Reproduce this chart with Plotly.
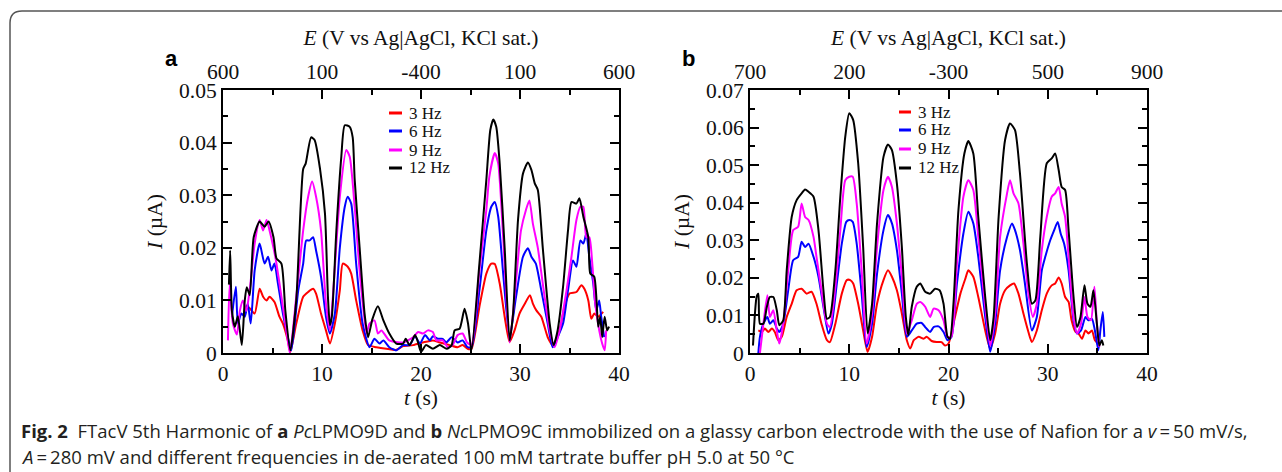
import plotly.graph_objects as go

# ---------------- data ----------------
# Panel a : PcLPMO9D
a_t_3 = [2.3, 2.7, 3.2, 3.7, 4.05, 4.4, 4.7, 5.2, 5.7, 6.05, 6.55, 6.8, 7.4, 8.1, 8.6, 9.1, 9.4, 9.9, 10.4, 10.8,
         11.3, 11.8, 12.1, 12.6, 12.95, 13.45, 14.1, 14.65, 15.5, 16.5, 17.5, 18.2, 19.2, 20.2, 21.2, 21.9, 22.9,
         23.7, 24.2, 24.7, 25.1, 25.9, 26.6, 27.1, 27.45, 27.95, 28.45, 28.95, 29.45, 29.95, 30.5, 31.0, 31.3,
         31.65, 32.15, 32.8, 33.3, 34.0, 34.5, 35.0, 35.7, 36.2, 36.5, 36.9, 37.2, 37.5, 37.9, 38.4]
a_i_3 = [0.0090, 0.0085, 0.0075, 0.0122, 0.0107, 0.0100, 0.0107, 0.0097, 0.0069, 0.0056, 0.0024, 0.0002, 0.0056,
         0.0107, 0.0116, 0.0122, 0.0113, 0.0075, 0.0043, 0.0018, 0.0056, 0.0119, 0.0170, 0.0164, 0.0151, 0.0100,
         0.0043, 0.0015, 0.0011, 0.0008, 0.0006, 0.0013, 0.0015, 0.0020, 0.0024, 0.0020, 0.0015, 0.0011, 0.0015,
         0.0008, 0.0008, 0.0088, 0.0151, 0.0170, 0.0169, 0.0132, 0.0069, 0.0021, 0.0043, 0.0075, 0.0094, 0.0110,
         0.0094, 0.0081, 0.0069, 0.0030, 0.0015, 0.0043, 0.0088, 0.0113, 0.0116, 0.0129, 0.0122, 0.0100, 0.0065,
         0.0075, 0.0069, 0.0078]

a_t_6 = [0.9, 1.3, 1.5, 1.85, 2.2, 2.5, 2.8, 3.2, 3.7, 4.2, 4.55, 4.9, 5.2, 5.55, 6.05, 6.55, 6.9, 7.6, 8.1, 8.4,
         8.75, 9.1, 9.4, 9.9, 10.4, 10.8, 11.3, 11.8, 12.3, 12.6, 12.95, 13.45, 14.1, 14.8, 15.3, 15.8, 16.2, 16.8,
         17.5, 18.2, 18.85, 19.4, 19.9, 20.4, 20.9, 21.2, 21.7, 22.2, 22.55, 23.1, 23.7, 24.2, 24.7, 25.1, 25.9,
         26.6, 27.1, 27.45, 27.8, 28.3, 28.95, 29.6, 30.3, 30.8, 31.15, 31.6, 32.15, 32.8, 33.3, 33.8, 34.35, 34.85,
         35.35, 35.7, 36.1, 36.4, 36.7, 37.0, 37.4, 37.7, 38.0, 38.2, 38.5]
a_i_6 = [0.0069, 0.0126, 0.0056, 0.0075, 0.0069, 0.0094, 0.0056, 0.0157, 0.0208, 0.0170, 0.0183, 0.0157, 0.0170,
         0.0132, 0.0075, 0.0030, 0.0005, 0.0119, 0.0170, 0.0214, 0.0214, 0.0220, 0.0195, 0.0145, 0.0069, 0.0037,
         0.0075, 0.0200, 0.0278, 0.0297, 0.0284, 0.0170, 0.0056, 0.0011, 0.0027, 0.0018, 0.0024, 0.0011, 0.0005,
         0.0015, 0.0015, 0.0032, 0.0018, 0.0034, 0.0024, 0.0032, 0.0027, 0.0027, 0.0020, 0.0030, 0.0020, 0.0024,
         0.0011, 0.0011, 0.0119, 0.0233, 0.0278, 0.0287, 0.0259, 0.0151, 0.0030, 0.0107, 0.0183, 0.0199, 0.0183,
         0.0170, 0.0119, 0.0056, 0.0011, 0.0030, 0.0056, 0.0119, 0.0176, 0.0164, 0.0214, 0.0208, 0.0227, 0.0183,
         0.0132, 0.0081, 0.0100, 0.0069, 0.0030]

a_t_9 = [0.5, 0.67, 1.0, 1.4, 1.7, 2.0, 2.35, 2.7, 3.2, 3.7, 4.05, 4.4, 4.7, 5.1, 5.4, 5.9, 6.4, 6.75, 7.4, 8.1, 8.6,
         9.0, 9.4, 9.9, 10.4, 10.8, 11.1, 11.8, 12.45, 12.8, 13.3, 13.8, 14.5, 14.8, 15.3, 15.65, 16.0, 16.8, 18.2,
         19.2, 19.7, 20.2, 20.7, 21.2, 21.55, 22.2, 22.7, 23.2, 23.7, 24.2, 24.65, 25.1, 25.9, 26.6, 26.9, 27.45,
         27.8, 28.3, 28.95, 29.6, 30.1, 30.6, 30.95, 31.3, 31.8, 32.3, 33.0, 33.5, 34.0, 34.7, 35.2, 35.7, 36.1,
         36.4, 36.7, 37.0, 37.3, 37.6, 38.0, 38.3, 38.55, 38.7]
a_i_9 = [0.0024, 0.0130, 0.0056, 0.0035, 0.0080, 0.0100, 0.0080, 0.0120, 0.0208, 0.0253, 0.0233, 0.0253, 0.0233,
         0.0200, 0.0170, 0.0107, 0.0043, 0.0000, 0.0107, 0.0233, 0.0297, 0.0326, 0.0297, 0.0233, 0.0094, 0.0043,
         0.0107, 0.0297, 0.0386, 0.0373, 0.0278, 0.0157, 0.0037, 0.0056, 0.0062, 0.0037, 0.0043, 0.0024, 0.0020,
         0.0030, 0.0040, 0.0037, 0.0043, 0.0040, 0.0024, 0.0024, 0.0011, 0.0015, 0.0034, 0.0037, 0.0020, 0.0015,
         0.0157, 0.0272, 0.0335, 0.0380, 0.0360, 0.0220, 0.0020, 0.0138, 0.0233, 0.0272, 0.0290, 0.0246, 0.0200,
         0.0132, 0.0043, 0.0011, 0.0043, 0.0119, 0.0183, 0.0253, 0.0278, 0.0278, 0.0220, 0.0220, 0.0170, 0.0094,
         0.0043, 0.0018, 0.0005, 0.0043]

a_t_12 = [0.6, 0.72, 0.9, 1.2, 1.5, 1.9, 2.2, 2.4, 2.7, 3.1, 3.7, 4.2, 4.6, 5.1, 5.4, 5.9, 6.3, 6.8, 7.4, 8.1,
          8.35, 8.9, 9.25, 9.8, 10.3, 10.6, 10.8, 11.0, 11.45, 11.95, 12.3, 12.8, 13.1, 13.3, 13.8, 14.3, 14.65,
          15.1, 15.65, 16.2, 16.8, 17.5, 18.2, 18.45, 18.85, 19.4, 19.7, 20.0, 20.5, 21.2, 21.9, 22.6, 23.1, 23.4,
          23.9, 24.4, 24.75, 25.1, 25.9, 26.6, 27.0, 27.3, 27.6, 27.95, 28.45, 28.95, 29.3, 29.8, 30.3, 30.8,
          31.15, 31.5, 31.8, 32.3, 33.0, 33.4, 33.8, 34.35, 34.85, 35.2, 35.7, 36.0, 36.4, 36.9, 37.1, 37.5, 37.9,
          38.1, 38.3, 38.55, 38.8, 39.0]
a_i_12 = [0.0130, 0.0195, 0.0080, 0.0050, 0.0070, 0.0015, 0.0100, 0.0125, 0.0110, 0.0220, 0.0250, 0.0240, 0.0250,
          0.0220, 0.0180, 0.0170, 0.0080, 0.0005, 0.0100, 0.0350, 0.0360, 0.0410, 0.0405, 0.0350, 0.0265, 0.0107,
          0.0053, 0.0070, 0.0233, 0.0373, 0.0433, 0.0430, 0.0410, 0.0330, 0.0200, 0.0075, 0.0030, 0.0065, 0.0089,
          0.0062, 0.0037, 0.0018, 0.0018, 0.0027, 0.0015, 0.0034, 0.0020, 0.0002, 0.0015, 0.0008, 0.0015, 0.0008,
          0.0015, 0.0043, 0.0046, 0.0084, 0.0056, 0.0005, 0.0170, 0.0329, 0.0424, 0.0444, 0.0430, 0.0360, 0.0200,
          0.0024, 0.0075, 0.0253, 0.0341, 0.0362, 0.0348, 0.0322, 0.0310, 0.0200, 0.0056, 0.0015, 0.0043, 0.0126,
          0.0233, 0.0287, 0.0284, 0.0294, 0.0259, 0.0220, 0.0151, 0.0145, 0.0050, 0.0069, 0.0030, 0.0069, 0.0043,
          0.0050]

# Panel b : NcLPMO9C
b_t_3 = [0.84, 1.2, 1.5, 1.85, 2.2, 2.5, 2.85, 3.2, 3.7, 4.2, 4.7, 5.2, 5.7, 6.2, 6.7, 7.2, 7.75, 8.05, 8.6, 9.25,
         9.75, 10.1, 10.4, 10.9, 11.4, 11.85, 12.3, 12.8, 13.45, 13.9, 14.3, 14.8, 15.3, 15.8, 16.15, 16.5, 17.0,
         17.5, 17.8, 18.3, 18.8, 19.3, 19.65, 20.0, 20.5, 21.2, 21.7, 22.0, 22.5, 23.0, 23.7, 24.2, 24.7, 25.2,
         25.7, 26.2, 26.6, 27.05, 27.55, 28.05, 28.4, 28.9, 29.4, 29.9, 30.4, 30.75, 31.1, 31.4, 31.75, 32.1, 32.4,
         32.8, 33.1, 33.45, 33.8, 34.1, 34.45, 34.75, 35.1]
b_i_3 = [0.0060, 0.0056, 0.0065, 0.0056, 0.0065, 0.0056, 0.0034, 0.0043, 0.0096, 0.0131, 0.0167, 0.0171, 0.0158,
         0.0163, 0.0131, 0.0078, 0.0034, 0.0029, 0.0078, 0.0158, 0.0194, 0.0194, 0.0185, 0.0131, 0.0060, 0.0003,
         0.0043, 0.0131, 0.0194, 0.0220, 0.0203, 0.0167, 0.0105, 0.0034, 0.0012, 0.0034, 0.0043, 0.0038, 0.0043,
         0.0032, 0.0029, 0.0029, 0.0020, 0.0025, 0.0078, 0.0158, 0.0198, 0.0220, 0.0203, 0.0149, 0.0060, 0.0012,
         0.0052, 0.0131, 0.0167, 0.0180, 0.0185, 0.0158, 0.0105, 0.0056, 0.0029, 0.0060, 0.0114, 0.0158, 0.0180,
         0.0185, 0.0201, 0.0185, 0.0149, 0.0136, 0.0087, 0.0056, 0.0052, 0.0038, 0.0060, 0.0052, 0.0060, 0.0034,
         0.0025]

b_t_6 = [0.84, 1.0, 1.35, 1.75, 2.0, 2.35, 2.7, 2.95, 3.35, 3.85, 4.35, 4.85, 5.2, 5.55, 5.9, 6.4, 6.9, 7.4, 7.9,
         8.25, 8.75, 9.25, 9.7, 10.0, 10.35, 10.75, 11.25, 11.75, 12.3, 12.8, 13.45, 13.9, 14.3, 14.8, 15.3, 15.8,
         16.3, 16.8, 17.3, 17.65, 18.15, 18.5, 19.0, 19.5, 19.9, 20.3, 20.85, 21.5, 22.0, 22.5, 23.0, 23.7, 24.2,
         24.7, 25.2, 25.9, 26.4, 26.7, 27.2, 27.7, 28.4, 28.9, 29.4, 29.75, 30.25, 30.65, 31.0, 31.3, 31.65, 32.1,
         32.6, 32.95, 33.35, 33.8, 34.1, 34.45, 34.75, 35.1, 35.3, 35.55, 35.7]
b_i_6 = [0.0000, 0.0043, 0.0078, 0.0096, 0.0078, 0.0087, 0.0065, 0.0056, 0.0078, 0.0167, 0.0247, 0.0256, 0.0296,
         0.0282, 0.0291, 0.0256, 0.0203, 0.0123, 0.0052, 0.0078, 0.0185, 0.0291, 0.0349, 0.0354, 0.0349, 0.0291,
         0.0158, 0.0016, 0.0078, 0.0211, 0.0327, 0.0367, 0.0345, 0.0274, 0.0158, 0.0043, 0.0060, 0.0078, 0.0080,
         0.0069, 0.0056, 0.0069, 0.0071, 0.0056, 0.0034, 0.0043, 0.0185, 0.0318, 0.0376, 0.0345, 0.0256, 0.0096,
         0.0003, 0.0078, 0.0220, 0.0309, 0.0345, 0.0327, 0.0274, 0.0185, 0.0060, 0.0096, 0.0220, 0.0256, 0.0300,
         0.0327, 0.0349, 0.0318, 0.0291, 0.0220, 0.0087, 0.0052, 0.0060, 0.0096, 0.0087, 0.0091, 0.0060, 0.0007,
         0.0060, 0.0109, 0.0043]

b_t_9 = [1.0, 1.35, 1.75, 2.0, 2.35, 2.7, 2.95, 3.35, 3.85, 4.35, 4.85, 5.2, 5.55, 5.9, 6.4, 6.7, 7.2, 7.75, 8.05,
         8.6, 9.1, 9.6, 10.0, 10.35, 10.75, 11.25, 11.75, 12.3, 12.8, 13.45, 13.9, 14.3, 14.8, 15.3, 15.8, 16.3,
         16.8, 17.15, 17.65, 18.15, 18.5, 19.0, 19.5, 19.9, 20.3, 20.85, 21.5, 22.0, 22.5, 23.0, 23.7, 24.2, 24.7,
         25.2, 25.9, 26.2, 26.55, 27.05, 27.55, 28.05, 28.5, 28.9, 29.4, 29.9, 30.4, 30.75, 31.1, 31.4, 31.75,
         32.1, 32.6, 32.95, 33.35, 33.7, 34.0, 34.35, 34.7, 34.95, 35.2]
b_i_9 = [0.0000, 0.0078, 0.0154, 0.0096, 0.0114, 0.0060, 0.0025, 0.0078, 0.0220, 0.0327, 0.0336, 0.0398, 0.0362,
         0.0354, 0.0309, 0.0256, 0.0167, 0.0078, 0.0069, 0.0176, 0.0327, 0.0460, 0.0469, 0.0469, 0.0398, 0.0220,
         0.0025, 0.0105, 0.0282, 0.0434, 0.0469, 0.0442, 0.0345, 0.0203, 0.0052, 0.0087, 0.0131, 0.0136, 0.0123,
         0.0096, 0.0118, 0.0114, 0.0087, 0.0043, 0.0043, 0.0238, 0.0416, 0.0460, 0.0434, 0.0309, 0.0123, 0.0020,
         0.0105, 0.0309, 0.0425, 0.0460, 0.0425, 0.0398, 0.0291, 0.0158, 0.0096, 0.0131, 0.0274, 0.0362, 0.0416,
         0.0425, 0.0442, 0.0398, 0.0362, 0.0256, 0.0096, 0.0052, 0.0078, 0.0149, 0.0096, 0.0087, 0.0176, 0.0078,
         0.0016]

b_t_12 = [0.3, 0.67, 0.84, 1.0, 1.35, 1.7, 2.0, 2.35, 2.7, 2.95, 3.35, 3.7, 4.2, 4.7, 5.2, 5.55, 5.9, 6.4, 6.9, 7.4,
          7.75, 8.05, 8.6, 9.1, 9.6, 10.0, 10.4, 10.9, 11.4, 11.85, 12.3, 12.8, 13.45, 13.9, 14.3, 14.8, 15.3,
          15.7, 15.95, 16.3, 16.8, 17.15, 17.65, 18.15, 18.65, 19.1, 19.5, 19.9, 20.15, 20.5, 21.0, 21.6, 22.0,
          22.5, 23.0, 23.7, 24.2, 24.55, 25.05, 25.7, 26.2, 26.7, 27.2, 27.9, 28.4, 28.75, 29.25, 29.9, 30.4,
          30.75, 31.1, 31.4, 31.75, 32.1, 32.6, 32.95, 33.3, 33.7, 34.0, 34.3, 34.6, 34.95, 35.2, 35.45, 35.6]
b_i_12 = [0.0020, 0.0150, 0.0158, 0.0078, 0.0078, 0.0123, 0.0149, 0.0149, 0.0114, 0.0074, 0.0087, 0.0220, 0.0362,
          0.0407, 0.0425, 0.0435, 0.0429, 0.0416, 0.0327, 0.0167, 0.0091, 0.0096, 0.0220, 0.0416, 0.0576, 0.0638,
          0.0620, 0.0505, 0.0282, 0.0052, 0.0131, 0.0345, 0.0522, 0.0555, 0.0540, 0.0451, 0.0282, 0.0096, 0.0047,
          0.0123, 0.0176, 0.0185, 0.0163, 0.0158, 0.0171, 0.0167, 0.0131, 0.0043, 0.0038, 0.0131, 0.0380, 0.0531,
          0.0564, 0.0531, 0.0362, 0.0149, 0.0034, 0.0096, 0.0362, 0.0567, 0.0611, 0.0593, 0.0478, 0.0238, 0.0131,
          0.0140, 0.0309, 0.0505, 0.0518, 0.0531, 0.0487, 0.0442, 0.0434, 0.0327, 0.0149, 0.0069, 0.0096, 0.0180,
          0.0131, 0.0123, 0.0167, 0.0078, 0.0020, 0.0034, 0.0020]

freq_labels = ["3 Hz", "6 Hz", "9 Hz", "12 Hz"]
colors = ["#ff0000", "#0000ff", "#ff00ff", "#000000"]

t_ticks = [0, 10, 20, 30, 40]
E_ticks_a = ["600", "100", "-400", "100", "600"]
E_ticks_b = ["700", "200", "-300", "500", "900"]

caption_line1 = ("<b>Fig. 2</b>  FTacV 5th Harmonic of <b>a</b> <i>Pc</i>LPMO9D and <b>b</b> <i>Nc</i>LPMO9C "
                 "immobilized on a glassy carbon electrode with the use of Nafion for a <i>v</i>\u2009=\u200950 mV/s,")
caption_line2 = ("<i>A</i>\u2009=\u2009280 mV and different frequencies in de-aerated 100 mM tartrate buffer "
                 "pH 5.0 at 50 \u00b0C")

# ---------------- figure ----------------
W, H = 1282, 472
SERIF = "Liberation Serif"

def px_x(p):
    return p / W

def px_y(p):
    return 1 - p / H

fig = go.Figure()

panels = [
    dict(xa="x", ya="y", top="x3", ts=[a_t_3, a_t_6, a_t_9, a_t_12], ys=[a_i_3, a_i_6, a_i_9, a_i_12]),
    dict(xa="x2", ya="y2", top="x4", ts=[b_t_3, b_t_6, b_t_9, b_t_12], ys=[b_i_3, b_i_6, b_i_9, b_i_12]),
]
for p in panels:
    for k in range(4):
        fig.add_trace(go.Scatter(x=p["ts"][k], y=p["ys"][k], mode="lines", xaxis=p["xa"], yaxis=p["ya"],
                                 line=dict(color=colors[k], width=2, shape="spline", smoothing=0.6),
                                 name=freq_labels[k], showlegend=False, hoverinfo="skip"))
    # invisible helper trace so that the top (potential) axis is drawn
    fig.add_trace(go.Scatter(x=t_ticks, y=[0] * len(t_ticks), mode="markers", xaxis=p["top"], yaxis=p["ya"],
                             marker=dict(opacity=0), showlegend=False, hoverinfo="skip"))

tickfont = dict(family=SERIF, size=21.5, color="#111")
titlefont = dict(family=SERIF, size=21.5, color="#111")

def base_x(domain, anchor):
    return dict(domain=domain, anchor=anchor, range=[0, 40], tickvals=t_ticks, automargin=False,
                ticks="inside", ticklen=9, tickwidth=2, tickcolor="black",
                minor=dict(ticks="inside", ticklen=5, tickwidth=2, dtick=5, tickcolor="black", showgrid=False),
                showline=True, linewidth=2, linecolor="black", mirror="ticks",
                showgrid=False, zeroline=False, tickfont=tickfont, ticklabelstandoff=0,
                title=dict(text="<i>t</i> (s)", font=titlefont, standoff=5))

def base_y(domain, anchor, top):
    return dict(domain=domain, anchor=anchor, range=[0, top], dtick=0.01, automargin=False,
                ticks="inside", ticklen=9, tickwidth=2, tickcolor="black",
                minor=dict(ticks="inside", ticklen=5, tickwidth=2, dtick=0.005, tickcolor="black", showgrid=False),
                showline=True, linewidth=2, linecolor="black", mirror="ticks",
                showgrid=False, zeroline=False, tickfont=tickfont, ticklabelstandoff=0,
                title=dict(text="<i>I</i> (\u00b5A)", font=titlefont, standoff=11))

def top_x(overlay, anchor, texts):
    return dict(overlaying=overlay, anchor=anchor, side="top", range=[0, 40], tickvals=t_ticks,
                ticktext=texts, ticks="", showline=False, showgrid=False, zeroline=False, automargin=False,
                tickfont=tickfont, ticklabelstandoff=6,
                title=dict(text="<i>E</i> (V vs Ag|AgCl, KCl sat.)", font=titlefont, standoff=8))

ydom = [px_y(353), px_y(90)]
fig.update_layout(
    width=W, height=H, margin=dict(l=0, r=0, t=0, b=0, autoexpand=False),
    paper_bgcolor="white", plot_bgcolor="white", showlegend=False,
    xaxis=base_x([px_x(223), px_x(619)], "y"),
    yaxis=base_y(ydom, "x", 0.05),
    xaxis2=base_x([px_x(750), px_x(1147)], "y2"),
    yaxis2=base_y(ydom, "x2", 0.07),
    xaxis3=top_x("x", "y", E_ticks_a),
    xaxis4=top_x("x2", "y2", E_ticks_b),
)

# custom legends (short line samples)
legend_pos = [dict(x0=389, x1=402, tx=407, ys=[113, 131, 150, 168]),
              dict(x0=899, x1=911, tx=916, ys=[112, 130, 149, 168])]
for lp in legend_pos:
    for k in range(4):
        yy = px_y(lp["ys"][k])
        fig.add_shape(type="line", xref="paper", yref="paper", x0=px_x(lp["x0"]), x1=px_x(lp["x1"]),
                      y0=yy, y1=yy, line=dict(color=colors[k], width=3))
        fig.add_annotation(xref="paper", yref="paper", x=px_x(lp["tx"]), y=yy, text=freq_labels[k],
                           showarrow=False, xanchor="left", yanchor="middle",
                           font=dict(family=SERIF, size=17, color="#111"))

# panel letters
for letter, xp in [("a", 171), ("b", 689)]:
    fig.add_annotation(xref="paper", yref="paper", x=px_x(xp), y=px_y(58), text="<b>%s</b>" % letter,
                       showarrow=False, xanchor="center", yanchor="middle",
                       font=dict(family="Liberation Sans", size=22, color="black"))

# caption
for txt, yp in [(caption_line1, 430), (caption_line2, 456)]:
    fig.add_annotation(xref="paper", yref="paper", x=px_x(19), y=px_y(yp), text=txt,
                       showarrow=False, xanchor="left", yanchor="middle", align="left",
                       font=dict(family="Open Sans", size=18.5, color="#231f20"))

# rounded frame
r_x, r_y = 12 / W, 12 / H
xl, yt = px_x(10), px_y(11)
fig.add_shape(type="path", xref="paper", yref="paper",
              path=f"M {xl},-0.2 L {xl},{yt - r_y} Q {xl},{yt} {xl + r_x},{yt} L 1.2,{yt}",
              line=dict(color="#555", width=1.5))

fig.write_html("out.html", config={"displayModeBar": False},
               post_script="document.body.style.margin='0';document.body.style.overflow='hidden';")
